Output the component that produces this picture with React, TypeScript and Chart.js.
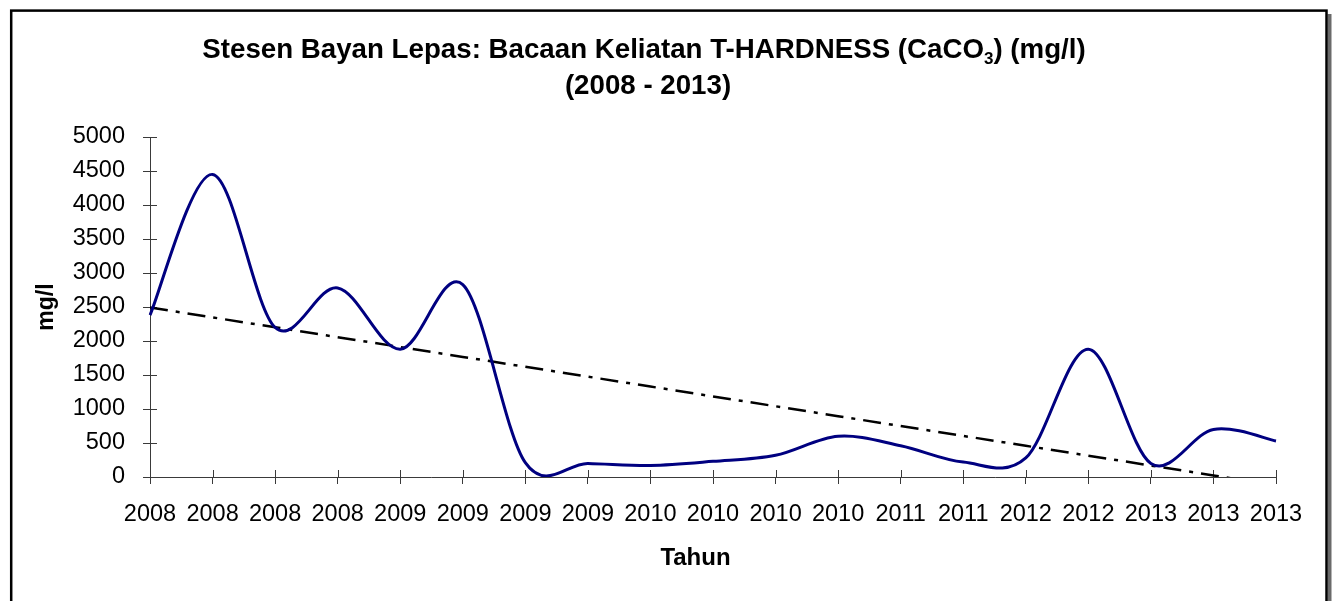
import React, { useEffect, useRef } from "react";
import { Chart, registerables } from "chart.js";

Chart.register(...registerables);

// ---- Data ----
const yearLabels: string[] = [
  "2008", "2008", "2008", "2008",
  "2009", "2009", "2009", "2009",
  "2010", "2010", "2010", "2010",
  "2011", "2011",
  "2012", "2012",
  "2013", "2013", "2013",
];

const hardnessValues: number[] = [
  2380, 4450, 2200, 2780, 1880, 2830, 210, 200, 170, 230,
  320, 600, 460, 220, 280, 1880, 200, 700, 530,
];

const yMin = 0;
const yMax = 5000;
const yStep = 500;

const titleBeforeSub = "Stesen Bayan Lepas: Bacaan Keliatan T-HARDNESS (CaCO";
const titleSub = "3";
const titleAfterSub = ") (mg/l)";
const titleLine2 = "(2008 - 2013)";
const xAxisTitle = "Tahun";
const yAxisTitle = "mg/l";

const FONT = "'Liberation Sans', Arial, Helvetica, sans-serif";

// Least-squares linear trend of the series (Excel "Linear" trendline)
function linearTrend(values: number[]): number[] {
  const n = values.length;
  let sx = 0, sy = 0, sxx = 0, sxy = 0;
  values.forEach((v, i) => {
    sx += i; sy += v; sxx += i * i; sxy += i * v;
  });
  const slope = (n * sxy - sx * sy) / (n * sxx - sx * sx);
  const intercept = (sy - slope * sx) / n;
  return values.map((_, i) => intercept + slope * i);
}

const framePlugin = {
  id: "frame",
  beforeDraw(chart: any) {
    const { ctx, width, height } = chart;
    ctx.save();
    ctx.fillStyle = "#ffffff";
    ctx.fillRect(0, 0, width, height);
    ctx.fillStyle = "#6a6a6a";
    ctx.fillRect(1327.5, 14, 4, height);
    ctx.strokeStyle = "#000000";
    ctx.lineWidth = 2.5;
    ctx.strokeRect(11.2, 10.6, 1315.3, height + 50);
    ctx.restore();
  },
};

// Excel-style smoothing (Catmull-Rom control points on the scale pixels)
const excelSmoothPlugin = {
  id: "excelSmooth",
  beforeDatasetDraw(chart: any, args: any) {
    if (args.index !== 0) return;
    const line = args.meta.dataset;
    if (!line || typeof line.updateControlPoints !== "function") return;
    line.updateControlPoints(chart.chartArea, args.meta.iAxis);
    const pts = args.meta.data;
    for (let i = 0; i < pts.length; i++) {
      const p = pts[i];
      const prev = pts[i - 1] || p;
      const next = pts[i + 1] || p;
      const dx = (next.x - prev.x) / 6;
      const dy = (next.y - prev.y) / 6;
      p.cp1x = p.x - dx;
      p.cp1y = p.y - dy;
      p.cp2x = p.x + dx;
      p.cp2y = p.y + dy;
    }
  },
};

const titlePlugin = {
  id: "customTitle",
  afterDraw(chart: any) {
    const { ctx } = chart;
    ctx.save();
    ctx.fillStyle = "#000000";
    ctx.textBaseline = "alphabetic";
    const mainFont = `bold 27.7px ${FONT}`;
    const subFont = `bold 17px ${FONT}`;
    ctx.font = mainFont;
    const w1 = ctx.measureText(titleBeforeSub).width;
    const w3 = ctx.measureText(titleAfterSub).width;
    ctx.font = subFont;
    const w2 = ctx.measureText(titleSub).width;
    const total = w1 + w2 + w3;
    const cx = 644;
    let x = cx - total / 2;
    const base1 = 58;
    ctx.textAlign = "left";
    ctx.font = mainFont;
    ctx.fillText(titleBeforeSub, x, base1);
    x += w1;
    ctx.font = subFont;
    ctx.fillText(titleSub, x, base1 + 6);
    x += w2;
    ctx.font = mainFont;
    ctx.fillText(titleAfterSub, x, base1);
    ctx.textAlign = "center";
    ctx.fillText(titleLine2, 648, 94);

    // x-axis title
    ctx.font = `bold 24px ${FONT}`;
    ctx.textAlign = "center";
    ctx.textBaseline = "middle";
    ctx.fillText(xAxisTitle, 695.5, 558);
    ctx.restore();
  },
};

const innerTicksPlugin = {
  id: "innerTicks",
  beforeDatasetsDraw(chart: any) {
    const { ctx, chartArea } = chart;
    const xs = chart.scales.x;
    const ys = chart.scales.y;
    ctx.save();
    ctx.strokeStyle = "#3a3a3a";
    ctx.lineWidth = 1;
    ctx.beginPath();
    xs.ticks.forEach((_: any, i: number) => {
      const px = Math.round(xs.getPixelForTick(i)) + 0.5;
      ctx.moveTo(px, chartArea.bottom);
      ctx.lineTo(px, chartArea.bottom - 7);
    });
    ys.ticks.forEach((_: any, i: number) => {
      const py = Math.round(ys.getPixelForTick(i)) + 0.5;
      ctx.moveTo(chartArea.left, py);
      ctx.lineTo(chartArea.left + 7, py);
    });
    ctx.stroke();
    ctx.restore();
  },
};

export default function App() {
  const canvasRef = useRef<HTMLCanvasElement | null>(null);

  useEffect(() => {
    if (!canvasRef.current) return;
    const trend = linearTrend(hardnessValues);
    const chart = new Chart(canvasRef.current, {
      type: "line",
      data: {
        labels: yearLabels,
        datasets: [
          {
            label: "T-HARDNESS",
            data: hardnessValues,
            borderColor: "#000080",
            borderWidth: 3,
            pointRadius: 0,
            tension: 0.4,
            fill: false,
          },
          {
            label: "Linear trend",
            data: trend,
            borderColor: "#000000",
            borderWidth: 2.5,
            borderDash: [18, 8, 4, 8],
            pointRadius: 0,
            tension: 0,
            fill: false,
            clip: 0,
          } as any,
        ],
      },
      options: {
        responsive: false,
        animation: false,
        events: [],
        layout: { padding: { top: 137, right: 59, left: 0, bottom: 0 } },
        plugins: {
          legend: { display: false },
          title: { display: false },
          tooltip: { enabled: false },
        },
        scales: {
          x: {
            type: "category",
            offset: false,
            afterFit(scale: any) {
              scale.height = 124;
            },
            grid: {
              display: true,
              drawOnChartArea: false,
              drawTicks: true,
              tickLength: 7,
              color: "#3a3a3a",
              lineWidth: 1,
            },
            border: { display: true, color: "#3a3a3a", width: 1 },
            ticks: {
              autoSkip: false,
              maxRotation: 0,
              minRotation: 0,
              padding: 16,
              color: "#000000",
              font: { family: FONT, size: 23.5 },
            },
            title: { display: false },
          },
          y: {
            type: "linear",
            min: yMin,
            max: yMax,
            afterFit(scale: any) {
              scale.width = 150;
            },
            grid: {
              display: true,
              drawOnChartArea: false,
              drawTicks: true,
              tickLength: 7,
              color: "#3a3a3a",
              lineWidth: 1,
            },
            border: { display: true, color: "#3a3a3a", width: 1 },
            ticks: {
              stepSize: yStep,
              padding: 18,
              color: "#000000",
              font: { family: FONT, size: 23.5 },
              callback: (v: any) => String(v),
            },
            title: {
              display: true,
              text: yAxisTitle,
              color: "#000000",
              font: { family: FONT, size: 23, weight: "bold" },
              padding: { top: 32.7, bottom: 0 },
            },
          },
        },
      },
      plugins: [framePlugin, excelSmoothPlugin, innerTicksPlugin, titlePlugin],
    });
    return () => chart.destroy();
  }, []);

  return (
    <div style={{ position: "fixed", left: 0, top: 0, width: 1335, height: 601 }}>
      <canvas ref={canvasRef} width={1335} height={601} style={{ display: "block" }} />
    </div>
  );
}
